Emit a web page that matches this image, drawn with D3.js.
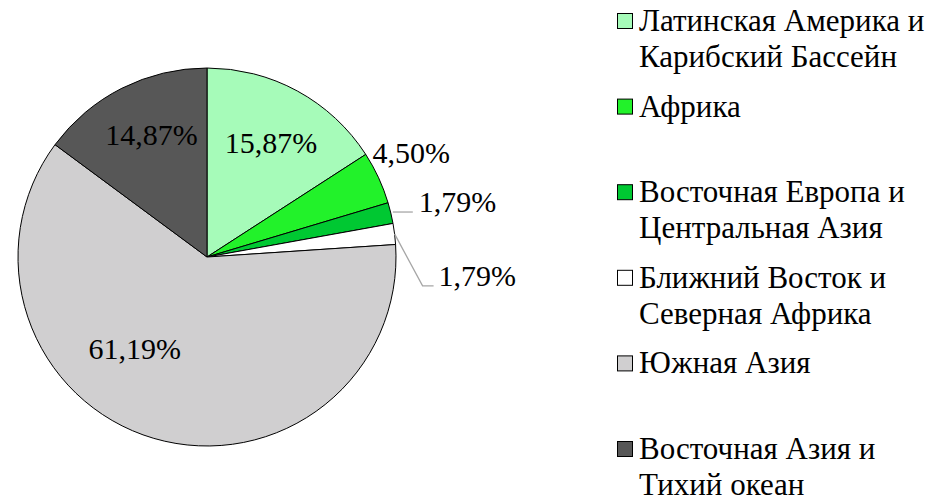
<!DOCTYPE html>
<html>
<head>
<meta charset="utf-8">
<script src="https://cdn.jsdelivr.net/npm/d3@7"></script>
<style>
  html, body { margin: 0; padding: 0; background: #fff; }
  svg { display: block; }
</style>
</head>
<body>
<svg id="chart" width="937" height="503"></svg>
<script>
// ---- data ----
const categories = [
  "Латинская Америка и Карибский Бассейн",
  "Африка",
  "Восточная Европа и Центральная Азия",
  "Ближний Восток и Северная Африка",
  "Южная Азия",
  "Восточная Азия и Тихий океан"
];
const legendLines = [
  ["Латинская Америка и", "Карибский Бассейн"],
  ["Африка"],
  ["Восточная Европа и", "Центральная Азия"],
  ["Ближний Восток и", "Северная Африка"],
  ["Южная Азия"],
  ["Восточная Азия и", "Тихий океан"]
];
const values = [15.87, 4.50, 1.79, 1.79, 61.19, 14.87];
const labels = ["15,87%", "4,50%", "1,79%", "1,79%", "61,19%", "14,87%"];
const colors = ["#a6fbb9", "#22f22a", "#00c832", "#ffffff", "#d0cfd0", "#575757"];

// ---- layout ----
const FONT = '"Liberation Serif"';
const cx = 207, cy = 257, R = 189;
const labelSize = 30, legendSize = 31;
const svg = d3.select("#chart");

const pie = d3.pie().sort(null).value(d => d).startAngle(0).endAngle(2 * Math.PI);
const arcs = pie(values);
const arc = d3.arc().innerRadius(0).outerRadius(R);

const g = svg.append("g").attr("transform", `translate(${cx},${cy})`);
g.selectAll("path.slice")
  .data(arcs)
  .enter().append("path")
  .attr("class", "slice")
  .attr("d", arc)
  .attr("fill", (d, i) => colors[i])
  .attr("stroke", "#000")
  .attr("stroke-width", 1);

const polar = (a, r) => [cx + r * Math.sin(a), cy - r * Math.cos(a)];
const mid = d => (d.startAngle + d.endAngle) / 2;

function addText(x, y, s, size, anchor) {
  const t = svg.append("text")
    .attr("x", x).attr("y", y)
    .attr("font-size", size)
    .style("font-family", FONT);
  if (anchor) t.attr("text-anchor", anchor);
  t.text(s);
  return t;
}

// inside labels
const insideCfg = {
  0: { dA: 0.015, rf: 0.69 },
  4: { dA: 0.38, rf: 0.62 },
  5: { dA: 0.04, rf: 0.71 }
};
Object.entries(insideCfg).forEach(([k, c]) => {
  const i = +k, d = arcs[i];
  const [x, y] = polar(mid(d) + c.dA, c.rf * R);
  addText(x, y + 10, labels[i], labelSize, "middle");
});

// label 1 (Africa)
{
  const [ex, ey] = polar(mid(arcs[1]), R);
  addText(ex - 6, ey - 15, labels[1], labelSize);
}
// label 2 (E. Europe): horizontal leader
{
  const [ex, ey] = polar(mid(arcs[2]), R);
  const x0 = ex + 2, y0 = ey - 1;
  svg.append("path")
    .attr("d", d3.line()([[x0, y0], [x0 + 20, y0]]))
    .attr("fill", "none").attr("stroke", "#a6a6a6").attr("stroke-width", 1.3);
  addText(x0 + 26, y0, labels[2], labelSize);
}
// label 3 (Middle East): bent leader
{
  const [ex, ey] = polar(mid(arcs[3]), R);
  const x1 = ex + 28, y1 = ey + 52;
  svg.append("path")
    .attr("d", d3.line()([[ex, ey], [x1, y1], [x1 + 11, y1]]))
    .attr("fill", "none").attr("stroke", "#a6a6a6").attr("stroke-width", 1.3);
  addText(x1 + 16, y1, labels[3], labelSize);
}

// ---- legend ----
const legX = 617, legTextX = 639, legY0 = 31, legStep = 85.6, lineH = 36, mk = 16;
legendLines.forEach((lines, i) => {
  const by = legY0 + i * legStep;
  svg.append("rect")
    .attr("x", legX + 0.5).attr("y", by - 18 + 0.5)
    .attr("width", mk - 1).attr("height", mk - 1)
    .attr("fill", colors[i])
    .attr("stroke", "#000").attr("stroke-width", 1);
  lines.forEach((ln, j) => {
    addText(legTextX, by + j * lineH, ln, legendSize);
  });
});
</script>
</body>
</html>
